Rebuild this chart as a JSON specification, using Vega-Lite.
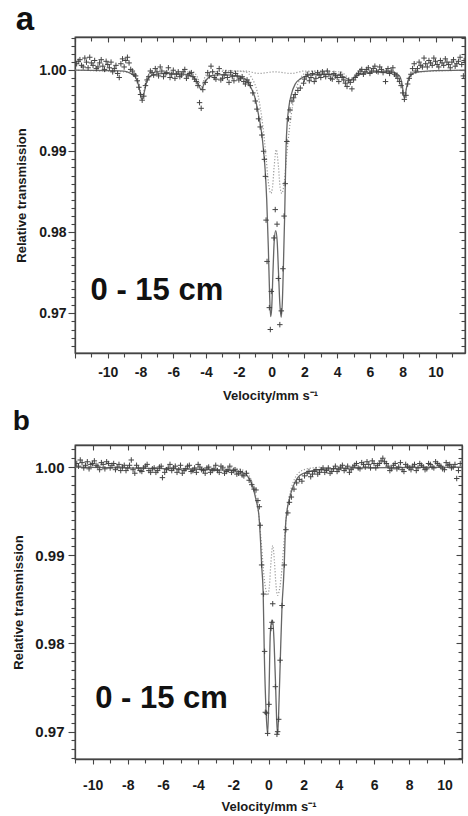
{
  "$schema": "https://vega.github.io/schema/vega-lite/v6.json",
  "padding": {"left": 12, "top": 3, "right": 0, "bottom": 0},
  "spacing": 4,
  "config": {
    "view": {"stroke": "#444", "strokeWidth": 1.3},
    "axis": {"domainColor": "#444", "domainWidth": 1.3, "tickColor": "#444", "tickWidth": 1.1, "grid": false,
      "labelFont": "Liberation Sans", "labelFontWeight": "bold", "labelFontSize": 14, "labelColor": "#1a1a1a",
      "titleFont": "Liberation Sans", "titleFontWeight": "bold", "titleFontSize": 13, "titleColor": "#1a1a1a",
      "labelOverlap": false, "labelFlush": false, "labelBound": false},
    "title": {"font": "Liberation Sans", "fontWeight": "bold", "color": "#111"}
  },
  "datasets": {
    "a_pts": [
      {"v":-11.9,"t":1.0008},{"v":-11.7,"t":1.0013},{"v":-11.5,"t":1.0004},{"v":-11.3,"t":1.0010},{"v":-11.1,"t":1.0016},{"v":-10.9,"t":1.0006},{"v":-10.7,"t":1.0002},{"v":-10.5,"t":1.0009},{"v":-10.3,"t":1.0005},{"v":-10.1,"t":1.0011},{"v":-9.9,"t":1.0003},{"v":-9.7,"t":0.9998},{"v":-9.5,"t":1.0006},{"v":-9.3,"t":0.9991},{"v":-9.1,"t":1.0014},{"v":-8.9,"t":1.0012},{"v":-8.7,"t":1.0009},{"v":-8.5,"t":0.9999},{"v":-8.3,"t":0.9993},{"v":-8.1,"t":0.9979},{"v":-7.9,"t":0.9963},{"v":-7.7,"t":0.9981},{"v":-7.5,"t":0.9992},{"v":-7.3,"t":0.9997},{"v":-7.1,"t":1.0002},{"v":-6.9,"t":0.9993},{"v":-6.7,"t":0.9999},{"v":-6.5,"t":0.9996},{"v":-6.3,"t":1.0003},{"v":-6.1,"t":0.9995},{"v":-5.9,"t":0.9990},{"v":-5.7,"t":0.9998},{"v":-5.5,"t":0.9994},{"v":-5.3,"t":1.0001},{"v":-5.1,"t":0.9993},{"v":-4.9,"t":0.9997},{"v":-4.7,"t":0.9989},{"v":-4.5,"t":0.9981},{"v":-4.4,"t":0.9960},{"v":-4.3,"t":0.9953},{"v":-4.2,"t":0.9976},{"v":-4.05,"t":0.9985},{"v":-3.9,"t":0.9997},{"v":-3.7,"t":1.0005},{"v":-3.5,"t":0.9991},{"v":-3.3,"t":0.9996},{"v":-3.1,"t":0.9988},{"v":-2.9,"t":0.9994},{"v":-2.7,"t":0.9991},{"v":-2.5,"t":0.9997},{"v":-2.3,"t":0.9987},{"v":-2.1,"t":0.9993},{"v":-1.9,"t":0.9990},{"v":-1.7,"t":0.9986},{"v":-1.5,"t":0.9988},{"v":-1.3,"t":0.9981},{"v":-1.15,"t":0.9972},{"v":-1.0,"t":0.9962},{"v":-0.9,"t":0.9952},{"v":-0.8,"t":0.9940},{"v":-0.7,"t":0.9930},{"v":-0.6,"t":0.9920},{"v":-0.49,"t":0.9900},{"v":-0.44,"t":0.9890},{"v":-0.38,"t":0.9869},{"v":-0.34,"t":0.9815},{"v":-0.28,"t":0.9764},{"v":-0.14,"t":0.9707},{"v":-0.08,"t":0.9680},{"v":-0.02,"t":0.9727},{"v":0.14,"t":0.9793},{"v":0.22,"t":0.9828},{"v":0.33,"t":0.9810},{"v":0.41,"t":0.9743},{"v":0.5,"t":0.9686},{"v":0.59,"t":0.9703},{"v":0.69,"t":0.9755},{"v":0.76,"t":0.9820},{"v":0.83,"t":0.9860},{"v":0.93,"t":0.9912},{"v":1.03,"t":0.9940},{"v":1.12,"t":0.9951},{"v":1.24,"t":0.9962},{"v":1.34,"t":0.9966},{"v":1.44,"t":0.9970},{"v":1.6,"t":0.9975},{"v":1.75,"t":0.9978},{"v":1.95,"t":0.9984},{"v":2.1,"t":0.9992},{"v":2.3,"t":0.9987},{"v":2.5,"t":0.9996},{"v":2.7,"t":0.9990},{"v":2.9,"t":0.9994},{"v":3.1,"t":0.9998},{"v":3.3,"t":0.9992},{"v":3.5,"t":0.9995},{"v":3.7,"t":0.9989},{"v":3.9,"t":0.9993},{"v":4.1,"t":0.9986},{"v":4.3,"t":0.9991},{"v":4.5,"t":0.9984},{"v":4.7,"t":0.9987},{"v":4.9,"t":0.9977},{"v":5.1,"t":0.9991},{"v":5.3,"t":0.9996},{"v":5.5,"t":1.0001},{"v":5.7,"t":0.9998},{"v":5.9,"t":1.0003},{"v":6.1,"t":0.9999},{"v":6.3,"t":1.0005},{"v":6.5,"t":0.9998},{"v":6.7,"t":1.0001},{"v":6.95,"t":0.9986},{"v":7.1,"t":1.0002},{"v":7.3,"t":0.9999},{"v":7.5,"t":0.9995},{"v":7.7,"t":0.9990},{"v":7.9,"t":0.9981},{"v":8.1,"t":0.9964},{"v":8.3,"t":0.9983},{"v":8.5,"t":0.9995},{"v":8.7,"t":1.0008},{"v":8.9,"t":1.0002},{"v":9.1,"t":1.0006},{"v":9.3,"t":1.0015},{"v":9.5,"t":1.0004},{"v":9.7,"t":1.0009},{"v":9.9,"t":1.0015},{"v":10.1,"t":1.0007},{"v":10.3,"t":1.0012},{"v":10.5,"t":1.0006},{"v":10.7,"t":1.0010},{"v":10.9,"t":1.0003},{"v":11.1,"t":1.0013},{"v":11.3,"t":1.0008},{"v":11.5,"t":1.0016},{"v":11.7,"t":0.9993},
      {"v":-11.8,"t":1.0011},{"v":-11.6,"t":1.0006},{"v":-11.4,"t":1.0015},{"v":-11.2,"t":1.0003},{"v":-11.0,"t":1.0009},{"v":-10.8,"t":1.0012},{"v":-10.6,"t":1.0004},{"v":-10.4,"t":1.0013},{"v":-10.2,"t":1.0001},{"v":-10.0,"t":1.0007},{"v":-9.8,"t":1.0010},{"v":-9.6,"t":1.0002},{"v":-9.4,"t":0.9996},{"v":-9.2,"t":1.0008},{"v":-9.0,"t":1.0004},{"v":-8.8,"t":1.0016},{"v":-8.6,"t":1.0001},{"v":-8.4,"t":0.9995},{"v":-8.2,"t":0.9987},{"v":-8.0,"t":0.9970},{"v":-7.8,"t":0.9968},{"v":-7.6,"t":0.9988},{"v":-7.4,"t":0.9999},{"v":-7.2,"t":0.9994},{"v":-7.0,"t":0.9998},{"v":-6.8,"t":1.0004},{"v":-6.6,"t":0.9992},{"v":-6.4,"t":0.9997},{"v":-6.2,"t":0.9991},{"v":-6.0,"t":1.0000},{"v":-5.8,"t":0.9995},{"v":-5.6,"t":0.9992},{"v":-5.4,"t":0.9998},{"v":-5.2,"t":0.9990},{"v":-5.0,"t":0.9996},{"v":-4.8,"t":0.9992},{"v":-4.6,"t":0.9986},{"v":-3.8,"t":0.9993},{"v":-3.6,"t":0.9998},{"v":-3.4,"t":0.9989},{"v":-3.2,"t":1.0002},{"v":-3.0,"t":0.9990},{"v":-2.8,"t":0.9997},{"v":-2.6,"t":0.9985},{"v":-2.4,"t":0.9992},{"v":-2.2,"t":0.9996},{"v":-2.0,"t":0.9988},{"v":-1.8,"t":0.9992},{"v":-1.6,"t":0.9983},{"v":-1.4,"t":0.9985},
      {"v":2.0,"t":0.9989},{"v":2.2,"t":0.9995},{"v":2.4,"t":0.9991},{"v":2.6,"t":0.9986},{"v":2.8,"t":0.9997},{"v":3.0,"t":0.9991},{"v":3.2,"t":0.9995},{"v":3.4,"t":0.9999},{"v":3.6,"t":0.9990},{"v":3.8,"t":0.9996},{"v":4.0,"t":0.9991},{"v":4.2,"t":0.9995},{"v":4.4,"t":0.9988},{"v":4.6,"t":0.9980},{"v":4.8,"t":0.9985},{"v":5.0,"t":0.9988},{"v":5.2,"t":0.9994},{"v":5.4,"t":0.9999},{"v":5.6,"t":0.9995},{"v":5.8,"t":1.0001},{"v":6.0,"t":0.9996},{"v":6.2,"t":1.0002},{"v":6.4,"t":0.9999},{"v":6.6,"t":1.0004},{"v":6.8,"t":0.9997},{"v":7.0,"t":0.9999},{"v":7.2,"t":0.9996},{"v":7.4,"t":1.0003},{"v":7.6,"t":0.9993},{"v":7.8,"t":0.9986},{"v":8.0,"t":0.9972},{"v":8.2,"t":0.9969},{"v":8.4,"t":0.9990},{"v":8.6,"t":1.0002},{"v":8.8,"t":0.9999},{"v":9.0,"t":1.0010},{"v":9.2,"t":1.0004},{"v":9.4,"t":1.0008},{"v":9.6,"t":1.0012},{"v":9.8,"t":1.0006},{"v":10.0,"t":1.0011},{"v":10.2,"t":1.0004},{"v":10.4,"t":1.0009},{"v":10.6,"t":1.0014},{"v":10.8,"t":1.0007},{"v":11.0,"t":1.0010},{"v":11.2,"t":1.0005},{"v":11.4,"t":1.0011},{"v":11.6,"t":1.0007},{"v":11.75,"t":1.0012}
    ],
    "a_fit": [
      {"v":-12,"t":1.0000},{"v":-10,"t":0.99995},{"v":-9,"t":0.9999},{"v":-8.6,"t":0.9996},{"v":-8.3,"t":0.9991},{"v":-8.1,"t":0.9980},{"v":-7.95,"t":0.9965},{"v":-7.9,"t":0.9964},{"v":-7.75,"t":0.9975},{"v":-7.6,"t":0.9987},{"v":-7.3,"t":0.9994},{"v":-6.5,"t":0.9996},{"v":-5.5,"t":0.99955},{"v":-5,"t":0.9994},{"v":-4.7,"t":0.9990},{"v":-4.5,"t":0.9984},{"v":-4.3,"t":0.9976},{"v":-4.1,"t":0.9984},{"v":-3.9,"t":0.9990},{"v":-3.5,"t":0.9994},{"v":-3.0,"t":0.99945},{"v":-2.5,"t":0.9994},{"v":-2.0,"t":0.9992},{"v":-1.6,"t":0.9989},{"v":-1.3,"t":0.9980},{"v":-1.0,"t":0.9965},{"v":-0.8,"t":0.9945},{"v":-0.6,"t":0.9921},{"v":-0.5,"t":0.9902},{"v":-0.4,"t":0.9878},{"v":-0.3,"t":0.9840},{"v":-0.2,"t":0.9780},{"v":-0.12,"t":0.9720},{"v":-0.06,"t":0.9696},{"v":0.0,"t":0.9705},{"v":0.08,"t":0.9750},{"v":0.16,"t":0.9790},{"v":0.25,"t":0.9802},{"v":0.34,"t":0.9788},{"v":0.42,"t":0.9750},{"v":0.5,"t":0.9712},{"v":0.58,"t":0.9695},{"v":0.65,"t":0.9712},{"v":0.72,"t":0.9760},{"v":0.8,"t":0.9825},{"v":0.88,"t":0.9905},{"v":0.95,"t":0.9935},{"v":1.04,"t":0.9953},{"v":1.2,"t":0.9970},{"v":1.44,"t":0.9983},{"v":1.8,"t":0.9990},{"v":2.3,"t":0.9994},{"v":3.0,"t":0.9995},{"v":4.0,"t":0.9994},{"v":4.4,"t":0.9992},{"v":4.8,"t":0.9988},{"v":5.1,"t":0.9992},{"v":5.6,"t":0.9996},{"v":6.5,"t":0.9998},{"v":7.4,"t":0.99975},{"v":7.8,"t":0.9993},{"v":7.95,"t":0.9984},{"v":8.1,"t":0.9966},{"v":8.25,"t":0.9980},{"v":8.4,"t":0.9991},{"v":8.8,"t":0.99975},{"v":9.5,"t":0.9999},{"v":11.8,"t":1.0000}
    ],
    "a_dbl": [
      {"v":-3,"t":1.0},{"v":-2.2,"t":0.9999},{"v":-1.6,"t":0.9998},{"v":-1.2,"t":0.9990},{"v":-0.9,"t":0.9975},{"v":-0.7,"t":0.9955},{"v":-0.5,"t":0.9925},{"v":-0.35,"t":0.9895},{"v":-0.2,"t":0.9862},{"v":-0.05,"t":0.9848},{"v":0.05,"t":0.9855},{"v":0.15,"t":0.9880},{"v":0.28,"t":0.9902},{"v":0.42,"t":0.9880},{"v":0.52,"t":0.9855},{"v":0.62,"t":0.9848},{"v":0.77,"t":0.9862},{"v":0.92,"t":0.9895},{"v":1.07,"t":0.9925},{"v":1.27,"t":0.9955},{"v":1.47,"t":0.9975},{"v":1.77,"t":0.9990},{"v":2.2,"t":0.9998},{"v":2.8,"t":0.9999},{"v":3.5,"t":1.0}
    ],
    "a_sxt": [
      {"v":-12,"t":1.0},{"v":-8.4,"t":0.9997},{"v":-8.1,"t":0.9985},{"v":-7.9,"t":0.9966},{"v":-7.7,"t":0.9985},{"v":-7.4,"t":0.9997},{"v":-4.8,"t":0.9998},{"v":-4.5,"t":0.9990},{"v":-4.3,"t":0.9979},{"v":-4.1,"t":0.9990},{"v":-3.8,"t":0.9998},{"v":-1.6,"t":0.9999},{"v":-0.8,"t":0.9996},{"v":0.2,"t":0.9998},{"v":1.2,"t":0.9996},{"v":2.0,"t":0.9999},{"v":4.2,"t":0.9998},{"v":4.8,"t":0.9990},{"v":5.4,"t":0.9998},{"v":7.6,"t":0.9997},{"v":7.9,"t":0.9986},{"v":8.1,"t":0.9967},{"v":8.3,"t":0.9986},{"v":8.6,"t":0.9997},{"v":11.8,"t":1.0}
    ],
    "a_lbl": [{"v":-11.05,"t":0.9727,"s":"0 - 15 cm"}],
    "b_pts": [
      {"v":-10.9,"t":1.0004},{"v":-10.7,"t":1.0008},{"v":-10.5,"t":0.9999},{"v":-10.3,"t":1.0006},{"v":-10.1,"t":1.0003},{"v":-9.9,"t":1.0007},{"v":-9.7,"t":1.0001},{"v":-9.5,"t":1.0005},{"v":-9.3,"t":0.9998},{"v":-9.1,"t":1.0004},{"v":-8.9,"t":1.0002},{"v":-8.7,"t":0.9997},{"v":-8.5,"t":1.0003},{"v":-8.3,"t":1.0000},{"v":-8.1,"t":0.9996},{"v":-7.9,"t":1.0002},{"v":-7.8,"t":1.0008},{"v":-7.6,"t":0.9993},{"v":-7.4,"t":0.9999},{"v":-7.2,"t":0.9995},{"v":-7.0,"t":1.0001},{"v":-6.8,"t":0.9996},{"v":-6.6,"t":0.9998},{"v":-6.4,"t":0.9994},{"v":-6.2,"t":1.0000},{"v":-6.03,"t":0.9988},{"v":-5.8,"t":0.9997},{"v":-5.6,"t":1.0003},{"v":-5.4,"t":0.9999},{"v":-5.2,"t":0.9994},{"v":-5.0,"t":1.0002},{"v":-4.8,"t":0.9996},{"v":-4.6,"t":1.0001},{"v":-4.4,"t":0.9995},{"v":-4.2,"t":0.9999},{"v":-4.0,"t":1.0003},{"v":-3.8,"t":0.9997},{"v":-3.6,"t":0.9993},{"v":-3.4,"t":1.0000},{"v":-3.2,"t":0.9996},{"v":-3.0,"t":1.0002},{"v":-2.8,"t":0.9994},{"v":-2.6,"t":0.9999},{"v":-2.4,"t":0.9995},{"v":-2.2,"t":1.0001},{"v":-2.0,"t":0.9996},{"v":-1.8,"t":0.9992},{"v":-1.6,"t":0.9995},{"v":-1.4,"t":0.9990},{"v":-1.25,"t":0.9993},{"v":-1.1,"t":0.9985},{"v":-0.95,"t":0.9980},{"v":-0.82,"t":0.9975},{"v":-0.71,"t":0.9974},{"v":-0.6,"t":0.9962},{"v":-0.52,"t":0.9955},{"v":-0.47,"t":0.9934},{"v":-0.39,"t":0.9889},{"v":-0.28,"t":0.9856},{"v":-0.22,"t":0.9791},{"v":-0.18,"t":0.9722},{"v":-0.11,"t":0.9721},{"v":-0.05,"t":0.9698},{"v":0.03,"t":0.9731},{"v":0.14,"t":0.9817},{"v":0.2,"t":0.9824},{"v":0.24,"t":0.9845},{"v":0.39,"t":0.9751},{"v":0.48,"t":0.9697},{"v":0.52,"t":0.9700},{"v":0.58,"t":0.9714},{"v":0.66,"t":0.9781},{"v":0.77,"t":0.9843},{"v":0.9,"t":0.9889},{"v":0.99,"t":0.9929},{"v":1.1,"t":0.9948},{"v":1.19,"t":0.9960},{"v":1.3,"t":0.9966},{"v":1.45,"t":0.9975},{"v":1.6,"t":0.9982},{"v":1.75,"t":0.9986},{"v":1.9,"t":0.9984},{"v":2.05,"t":0.9990},{"v":2.2,"t":0.9993},{"v":2.4,"t":0.9989},{"v":2.6,"t":0.9995},{"v":2.8,"t":0.9992},{"v":3.0,"t":0.9997},{"v":3.2,"t":0.9994},{"v":3.4,"t":0.9999},{"v":3.6,"t":0.9995},{"v":3.8,"t":1.0001},{"v":4.0,"t":0.9997},{"v":4.2,"t":1.0002},{"v":4.4,"t":0.9998},{"v":4.6,"t":0.9994},{"v":4.8,"t":1.0000},{"v":5.0,"t":1.0004},{"v":5.2,"t":0.9998},{"v":5.4,"t":1.0003},{"v":5.6,"t":1.0006},{"v":5.8,"t":0.9999},{"v":6.0,"t":1.0004},{"v":6.2,"t":1.0002},{"v":6.4,"t":1.0007},{"v":6.5,"t":1.0010},{"v":6.7,"t":1.0004},{"v":6.9,"t":0.9996},{"v":7.1,"t":1.0002},{"v":7.3,"t":0.9998},{"v":7.5,"t":1.0005},{"v":7.7,"t":0.9995},{"v":7.9,"t":1.0001},{"v":8.1,"t":0.9997},{"v":8.3,"t":1.0003},{"v":8.5,"t":0.9999},{"v":8.7,"t":1.0002},{"v":8.9,"t":0.9997},{"v":9.1,"t":1.0004},{"v":9.3,"t":1.0000},{"v":9.5,"t":1.0006},{"v":9.7,"t":1.0002},{"v":9.9,"t":0.9998},{"v":10.1,"t":1.0005},{"v":10.3,"t":1.0003},{"v":10.5,"t":1.0000},{"v":10.7,"t":0.9987},{"v":10.9,"t":1.0004},
      {"v":-10.8,"t":1.0001},{"v":-10.6,"t":1.0005},{"v":-10.4,"t":1.0002},{"v":-10.2,"t":0.9998},{"v":-10.0,"t":1.0004},{"v":-9.8,"t":1.0002},{"v":-9.6,"t":0.9997},{"v":-9.4,"t":1.0003},{"v":-9.2,"t":1.0006},{"v":-9.0,"t":0.9999},{"v":-8.8,"t":1.0004},{"v":-8.6,"t":1.0000},{"v":-8.4,"t":0.9996},{"v":-8.2,"t":1.0002},{"v":-8.0,"t":0.9999},
      {"v":-7.7,"t":0.9997},{"v":-7.5,"t":1.0002},{"v":-7.3,"t":0.9996},{"v":-7.1,"t":0.9999},{"v":-6.9,"t":1.0003},{"v":-6.7,"t":0.9994},{"v":-6.5,"t":0.9999},{"v":-6.3,"t":0.9996},{"v":-6.1,"t":1.0001},{"v":-5.9,"t":0.9994},{"v":-5.7,"t":0.9999},{"v":-5.5,"t":0.9996},{"v":-5.3,"t":1.0001},{"v":-5.1,"t":0.9997},{"v":-4.9,"t":0.9993},{"v":-4.7,"t":0.9998},{"v":-4.5,"t":1.0002},{"v":-4.3,"t":0.9996},{"v":-4.1,"t":0.9994},{"v":-3.9,"t":1.0000},{"v":-3.7,"t":0.9996},{"v":-3.5,"t":0.9999},{"v":-3.3,"t":0.9994},{"v":-3.1,"t":0.9998},{"v":-2.9,"t":0.9996},{"v":-2.7,"t":1.0001},{"v":-2.5,"t":0.9993},{"v":-2.3,"t":0.9997},{"v":-2.1,"t":0.9994},{"v":-1.9,"t":0.9997},{"v":-1.7,"t":0.9993},{"v":-1.5,"t":0.9991},
      {"v":2.3,"t":0.9995},{"v":2.5,"t":0.9992},{"v":2.7,"t":0.9997},{"v":2.9,"t":0.9994},{"v":3.1,"t":0.9999},{"v":3.3,"t":0.9996},{"v":3.5,"t":0.9993},{"v":3.7,"t":0.9998},{"v":3.9,"t":0.9995},{"v":4.1,"t":1.0000},{"v":4.3,"t":0.9996},{"v":4.5,"t":1.0001},{"v":4.7,"t":0.9997},{"v":4.9,"t":1.0002},{"v":5.1,"t":0.9999},{"v":5.3,"t":1.0005},{"v":5.5,"t":1.0000},{"v":5.7,"t":1.0003},{"v":5.9,"t":1.0007},{"v":6.1,"t":0.9999},{"v":6.3,"t":1.0004},
      {"v":6.6,"t":1.0006},{"v":6.8,"t":1.0001},{"v":7.0,"t":0.9998},{"v":7.2,"t":1.0004},{"v":7.4,"t":1.0000},{"v":7.6,"t":0.9997},{"v":7.8,"t":1.0003},{"v":8.0,"t":0.9999},{"v":8.2,"t":1.0001},{"v":8.4,"t":0.9996},{"v":8.6,"t":1.0004},{"v":8.8,"t":1.0000},{"v":9.0,"t":0.9998},{"v":9.2,"t":1.0003},{"v":9.4,"t":0.9999},{"v":9.6,"t":1.0004},{"v":9.8,"t":1.0001},{"v":10.0,"t":0.9997},{"v":10.2,"t":1.0002},{"v":10.4,"t":0.9999},{"v":10.6,"t":1.0003},{"v":10.8,"t":0.9996}
    ],
    "b_fit": [
      {"v":-11,"t":1.0000},{"v":-5,"t":0.9998},{"v":-3,"t":0.9997},{"v":-2.0,"t":0.9996},{"v":-1.5,"t":0.9994},{"v":-1.2,"t":0.9990},{"v":-0.9,"t":0.9978},{"v":-0.7,"t":0.9962},{"v":-0.55,"t":0.9946},{"v":-0.45,"t":0.9915},{"v":-0.39,"t":0.9889},{"v":-0.3,"t":0.9855},{"v":-0.24,"t":0.9790},{"v":-0.14,"t":0.9724},{"v":-0.05,"t":0.9697},{"v":0.03,"t":0.9745},{"v":0.10,"t":0.9810},{"v":0.17,"t":0.9824},{"v":0.24,"t":0.9826},{"v":0.32,"t":0.9800},{"v":0.4,"t":0.9755},{"v":0.46,"t":0.9715},{"v":0.52,"t":0.9697},{"v":0.6,"t":0.9735},{"v":0.67,"t":0.9781},{"v":0.77,"t":0.9843},{"v":0.85,"t":0.9870},{"v":0.9,"t":0.9892},{"v":0.96,"t":0.9930},{"v":1.05,"t":0.9950},{"v":1.19,"t":0.9964},{"v":1.4,"t":0.9978},{"v":1.66,"t":0.9988},{"v":2.0,"t":0.9993},{"v":2.5,"t":0.9996},{"v":3.5,"t":0.9998},{"v":5,"t":0.9999},{"v":11,"t":1.0000}
    ],
    "b_dbl": [
      {"v":-2.5,"t":1.0},{"v":-2.0,"t":0.9999},{"v":-1.4,"t":0.9996},{"v":-1.0,"t":0.9986},{"v":-0.75,"t":0.9970},{"v":-0.55,"t":0.9945},{"v":-0.4,"t":0.9912},{"v":-0.25,"t":0.9875},{"v":-0.12,"t":0.9858},{"v":-0.05,"t":0.98545},{"v":0.05,"t":0.9865},{"v":0.14,"t":0.9892},{"v":0.24,"t":0.9911},{"v":0.34,"t":0.9892},{"v":0.43,"t":0.9865},{"v":0.52,"t":0.98545},{"v":0.59,"t":0.9858},{"v":0.72,"t":0.9875},{"v":0.87,"t":0.9912},{"v":1.02,"t":0.9945},{"v":1.22,"t":0.9970},{"v":1.47,"t":0.9986},{"v":1.9,"t":0.9996},{"v":2.5,"t":0.9999},{"v":3.0,"t":1.0}
    ],
    "b_lbl": [{"v":-9.85,"t":0.97375,"s":"0 - 15 cm"}]
  },
  "vconcat": [
    {
      "title": {"text": "a", "anchor": "start", "frame": "bounds", "fontSize": 33, "offset": -6},
      "width": 390,
      "height": 316,
      "resolve": {"axis": {"x": "independent", "y": "independent"}},
      "layer": [
        {
          "data": {"name": "a_sxt"},
          "mark": {"type": "line", "color": "#9a9a9a", "strokeWidth": 1.2, "strokeDash": [1.2, 1.8], "interpolate": "monotone", "clip": true},
          "encoding": {
            "x": {"field": "v", "type": "quantitative", "scale": {"domain": [-12, 11.8], "nice": false, "zero": false},
              "axis": {"orient": "bottom", "values": [-12,-11,-10,-9,-8,-7,-6,-5,-4,-3,-2,-1,0,1,2,3,4,5,6,7,8,9,10,11],
                "labelExpr": "datum.value % 2 === 0 && abs(datum.value) <= 10 ? (datum.value < 0 ? '-' + abs(datum.value) : '' + datum.value) : ''",
                "tickSize": {"condition": {"test": "datum.value % 2 === 0", "value": 5}, "value": 4},
                "labelPadding": 7, "title": "Velocity/mm s\u207b\u00b9", "titlePadding": 10}},
            "y": {"field": "t", "type": "quantitative", "scale": {"domain": [0.9651, 1.0041], "nice": false, "zero": false},
              "axis": {"orient": "left", "values": [0.966,0.967,0.968,0.969,0.97,0.971,0.972,0.973,0.974,0.975,0.976,0.977,0.978,0.979,0.98,0.981,0.982,0.983,0.984,0.985,0.986,0.987,0.988,0.989,0.99,0.991,0.992,0.993,0.994,0.995,0.996,0.997,0.998,0.999,1.0,1.001,1.002,1.003,1.004],
                "labelExpr": "abs(datum.value*100 - round(datum.value*100)) < 0.01 ? format(datum.value, '.2f') : ''",
                "tickSize": {"condition": {"test": "abs(datum.value*100 - round(datum.value*100)) < 0.01", "value": 7}, "value": 4},
                "labelPadding": 2, "title": "Relative transmission", "titlePadding": 10}}
          }
        },
        {
          "data": {"name": "a_dbl"},
          "mark": {"type": "line", "color": "#9a9a9a", "strokeWidth": 1.2, "strokeDash": [1.2, 1.8], "interpolate": "monotone", "clip": true},
          "encoding": {
            "x": {"field": "v", "type": "quantitative", "scale": {"domain": [-12, 11.8], "nice": false, "zero": false},
              "axis": {"orient": "top", "values": [-12,-11,-10,-9,-8,-7,-6,-5,-4,-3,-2,-1,0,1,2,3,4,5,6,7,8,9,10,11], "labels": false, "title": null,
                "tickSize": {"condition": {"test": "datum.value % 2 === 0", "value": -5}, "value": -4}}},
            "y": {"field": "t", "type": "quantitative", "scale": {"domain": [0.9651, 1.0041], "nice": false, "zero": false},
              "axis": {"orient": "right", "values": [0.966,0.967,0.968,0.969,0.97,0.971,0.972,0.973,0.974,0.975,0.976,0.977,0.978,0.979,0.98,0.981,0.982,0.983,0.984,0.985,0.986,0.987,0.988,0.989,0.99,0.991,0.992,0.993,0.994,0.995,0.996,0.997,0.998,0.999,1.0,1.001,1.002,1.003,1.004], "labels": false, "title": null,
                "tickSize": {"condition": {"test": "abs(datum.value*100 - round(datum.value*100)) < 0.01", "value": -6}, "value": -4}}}
          }
        },
        {
          "data": {"name": "a_fit"},
          "mark": {"type": "line", "color": "#666", "strokeWidth": 1.3, "interpolate": "monotone", "clip": true},
          "encoding": {
            "x": {"field": "v", "type": "quantitative", "axis": null},
            "y": {"field": "t", "type": "quantitative", "axis": null}
          }
        },
        {
          "data": {"name": "a_pts"},
          "mark": {"type": "point", "shape": "M-1,0L1,0M0,-1L0,1", "filled": false, "stroke": "#444", "strokeWidth": 1, "size": 30, "opacity": 1, "clip": true},
          "encoding": {
            "x": {"field": "v", "type": "quantitative", "axis": null},
            "y": {"field": "t", "type": "quantitative", "axis": null}
          }
        },
        {
          "data": {"name": "a_lbl"},
          "mark": {"type": "text", "align": "left", "baseline": "middle", "font": "Liberation Sans", "fontWeight": "bold", "fontSize": 31, "color": "#111"},
          "encoding": {
            "x": {"field": "v", "type": "quantitative", "axis": null},
            "y": {"field": "t", "type": "quantitative", "axis": null},
            "text": {"field": "s"}
          }
        }
      ]
    },
    {
      "title": {"text": "b", "anchor": "start", "frame": "bounds", "fontSize": 28, "offset": 6},
      "width": 387,
      "height": 314,
      "resolve": {"axis": {"x": "independent", "y": "independent"}},
      "layer": [
        {
          "data": {"name": "b_dbl"},
          "mark": {"type": "line", "color": "#9a9a9a", "strokeWidth": 1.2, "strokeDash": [1.2, 1.8], "interpolate": "monotone", "clip": true},
          "encoding": {
            "x": {"field": "v", "type": "quantitative", "scale": {"domain": [-11, 11], "nice": false, "zero": false},
              "axis": {"orient": "bottom", "values": [-11,-10,-9,-8,-7,-6,-5,-4,-3,-2,-1,0,1,2,3,4,5,6,7,8,9,10,11],
                "labelExpr": "datum.value % 2 === 0 && abs(datum.value) <= 10 ? (datum.value < 0 ? '-' + abs(datum.value) : '' + datum.value) : ''",
                "tickSize": {"condition": {"test": "datum.value % 2 === 0", "value": 5}, "value": 4},
                "labelPadding": 14, "title": "Velocity/mm s\u207b\u00b9", "titlePadding": 8}},
            "y": {"field": "t", "type": "quantitative", "scale": {"domain": [0.9669, 1.0025], "nice": false, "zero": false},
              "axis": {"orient": "left", "values": [0.967,0.968,0.969,0.97,0.971,0.972,0.973,0.974,0.975,0.976,0.977,0.978,0.979,0.98,0.981,0.982,0.983,0.984,0.985,0.986,0.987,0.988,0.989,0.99,0.991,0.992,0.993,0.994,0.995,0.996,0.997,0.998,0.999,1.0,1.001,1.002],
                "labelExpr": "abs(datum.value*100 - round(datum.value*100)) < 0.01 ? format(datum.value, '.2f') : ''",
                "tickSize": {"condition": {"test": "abs(datum.value*100 - round(datum.value*100)) < 0.01", "value": 7}, "value": 4},
                "labelPadding": 4, "labelFontSize": 15, "title": "Relative transmission", "titlePadding": 9}}
          }
        },
        {
          "data": {"name": "b_fit"},
          "mark": {"type": "line", "color": "#666", "strokeWidth": 1.3, "interpolate": "monotone", "clip": true},
          "encoding": {
            "x": {"field": "v", "type": "quantitative", "scale": {"domain": [-11, 11], "nice": false, "zero": false},
              "axis": {"orient": "top", "values": [-11,-10,-9,-8,-7,-6,-5,-4,-3,-2,-1,0,1,2,3,4,5,6,7,8,9,10,11], "labels": false, "title": null,
                "tickSize": {"condition": {"test": "datum.value % 2 === 0", "value": -5}, "value": -4}}},
            "y": {"field": "t", "type": "quantitative", "scale": {"domain": [0.9669, 1.0025], "nice": false, "zero": false},
              "axis": {"orient": "right", "values": [0.967,0.968,0.969,0.97,0.971,0.972,0.973,0.974,0.975,0.976,0.977,0.978,0.979,0.98,0.981,0.982,0.983,0.984,0.985,0.986,0.987,0.988,0.989,0.99,0.991,0.992,0.993,0.994,0.995,0.996,0.997,0.998,0.999,1.0,1.001,1.002], "labels": false, "title": null,
                "tickSize": {"condition": {"test": "abs(datum.value*100 - round(datum.value*100)) < 0.01", "value": -6}, "value": -4}}}
          }
        },
        {
          "data": {"name": "b_pts"},
          "mark": {"type": "point", "shape": "M-1,0L1,0M0,-1L0,1", "filled": false, "stroke": "#444", "strokeWidth": 1, "size": 30, "opacity": 1, "clip": true},
          "encoding": {
            "x": {"field": "v", "type": "quantitative", "axis": null},
            "y": {"field": "t", "type": "quantitative", "axis": null}
          }
        },
        {
          "data": {"name": "b_lbl"},
          "mark": {"type": "text", "align": "left", "baseline": "middle", "font": "Liberation Sans", "fontWeight": "bold", "fontSize": 31, "color": "#111"},
          "encoding": {
            "x": {"field": "v", "type": "quantitative", "axis": null},
            "y": {"field": "t", "type": "quantitative", "axis": null},
            "text": {"field": "s"}
          }
        }
      ]
    }
  ]
}
